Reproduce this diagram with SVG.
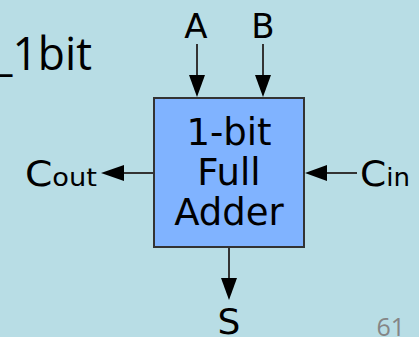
<svg xmlns="http://www.w3.org/2000/svg" width="419" height="337" viewBox="0 0 419 337">
<style>
.lbl{font-family:"DejaVu Sans",sans-serif;fill:#000}
.wire{stroke:#333;stroke-width:2;fill:none}
.head{fill:#000}
</style>
<rect x="0" y="0" width="419" height="337" fill="#b8dde5"/>
<text x="-7" y="70" font-family="Open Sans,sans-serif" font-size="45" fill="#000" textLength="99" lengthAdjust="spacingAndGlyphs">_1bit</text>
<g id="adder">
<rect x="154" y="98" width="150" height="149" fill="#80b3ff" stroke="#333" stroke-width="2"/>
<text class="lbl" x="229" y="145" font-size="37" text-anchor="middle">1-bit</text>
<text class="lbl" x="229" y="185" font-size="37" text-anchor="middle">Full</text>
<text class="lbl" x="229" y="225" font-size="37" text-anchor="middle">Adder</text>
</g>
<g id="inA"><text class="lbl" x="196" y="38" font-size="34" text-anchor="middle">A</text></g>
<g id="inB"><text class="lbl" x="263" y="38" font-size="34" text-anchor="middle">B</text></g>
<g id="cin"><text class="lbl" x="360" y="186" font-size="36" textLength="50" lengthAdjust="spacingAndGlyphs">C<tspan font-size="25">in</tspan></text></g>
<g id="cout"><text class="lbl" x="25" y="186" font-size="36" textLength="72" lengthAdjust="spacingAndGlyphs">C<tspan font-size="25">out</tspan></text></g>
<g id="sum"><text class="lbl" x="229" y="334" font-size="36" text-anchor="middle">S</text></g>
<g id="connectors">
<line class="wire" x1="197" y1="44" x2="197" y2="80"/>
<polygon class="head" points="189,75 205,75 197,97"/>
<line class="wire" x1="263" y1="44" x2="263" y2="80"/>
<polygon class="head" points="255,75 271,75 263,97"/>
<line class="wire" x1="357" y1="173" x2="320" y2="173"/>
<polygon class="head" points="327,165 327,181 305,173"/>
<line class="wire" x1="153" y1="173" x2="118" y2="173"/>
<polygon class="head" points="124,165 124,181 101,173"/>
<line class="wire" x1="229" y1="248" x2="229" y2="284"/>
<polygon class="head" points="221,278 237,278 229,300"/>
</g>
<text x="405" y="336" font-family="Open Sans,sans-serif" font-size="25" fill="#858585" text-anchor="end">61</text>
</svg>
